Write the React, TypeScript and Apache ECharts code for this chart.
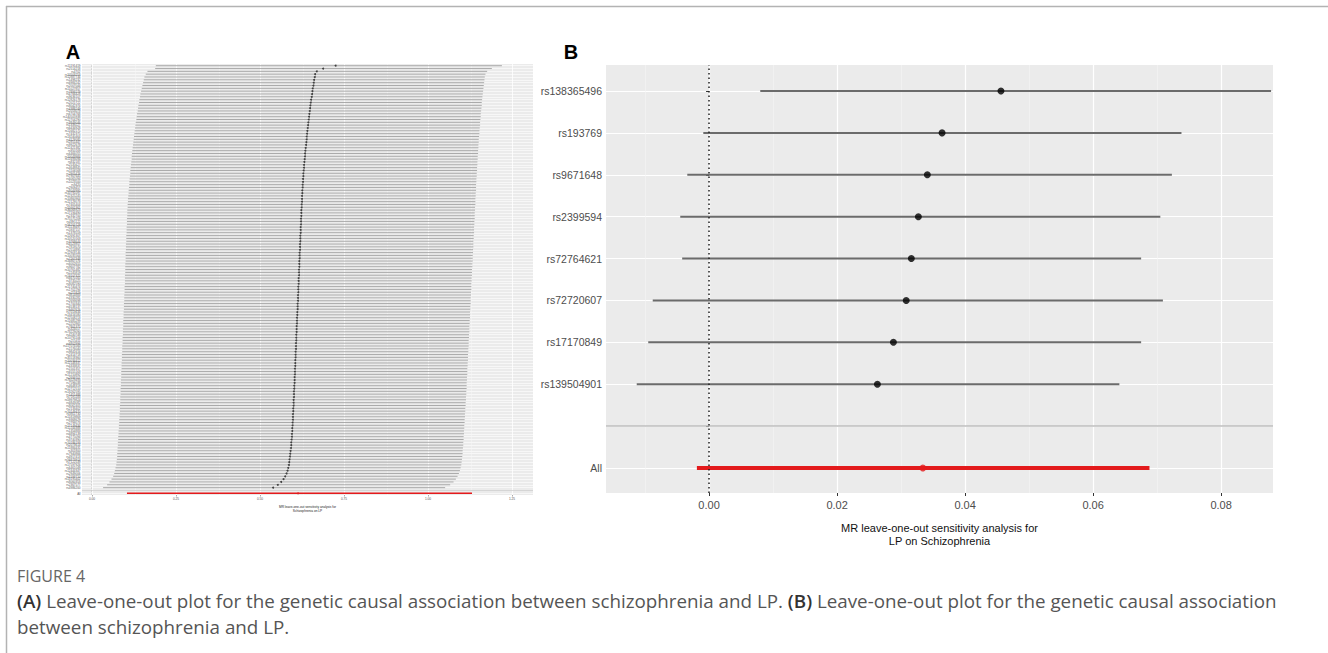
import React, { useEffect, useRef } from 'react';
import * as echarts from 'echarts';

// ---------- Panel A data (150 SNPs, sorted as in the figure) ----------
const A_SNPS = [
  'rs11191419','rs2514218','rs4702','rs10503253','rs12887734','rs1498232','rs6984242','rs2007044','rs11027857','rs7893279',
  'rs4766428','rs9636107','rs12826178','rs2021722','rs8042374','rs4388249','rs2053079','rs6704768','rs140505938','rs12704290',
  'rs3849046','rs1339227','rs6434928','rs11682175','rs7432375','rs13240464','rs4129585','rs2851447','rs9922678','rs12421382',
  'rs950169','rs6466055','rs10043984','rs11693094','rs832187','rs2535627','rs4648845','rs1106568','rs2905426','rs7907645',
  'rs6065094','rs1023500','rs9420','rs2909457','rs8044995','rs10791097','rs12325245','rs10860964','rs12129573','rs7405404',
  'rs55661361','rs36068923','rs17194490','rs2332700','rs75575209','rs4391122','rs56205728','rs11139497','rs5937157','rs1378559',
  'rs12691307','rs10520163','rs3768644','rs4523957','rs7819570','rs2514895','rs12903146','rs10035564','rs7267348','rs16867576',
  'rs6002655','rs9607782','rs10761482','rs2245819','rs13107325','rs6670165','rs3735025','rs8082590','rs11740474','rs1702294',
  'rs211829','rs3814883','rs4330281','rs2693698','rs1700340','rs6538137','rs9467626','rs7013634','rs13416580','rs12508213',
  'rs11685299','rs2252865','rs7801375','rs324017','rs73229090','rs4240748','rs10791106','rs215411','rs6802996','rs117074560',
  'rs1576040','rs9841616','rs2414718','rs35518360','rs10034412','rs12148337','rs4333837','rs1501357','rs6555163','rs11210892',
  'rs2693707','rs76029493','rs7596038','rs4648319','rs12712510','rs13262595','rs1451488','rs7191183','rs59979824','rs6843082',
  'rs8062405','rs2133402','rs10149470','rs3911730','rs11819869','rs9368629','rs2799573','rs17149434','rs12244388','rs1354883',
  'rs6894139','rs4775094','rs3740390','rs10186193','rs2073614','rs11884431','rs301800','rs7940866','rs4917413','rs56873913',
  'rs7122539','rs17597926','rs6461049','rs12444347','rs2949006','rs1593710','rs13195402','rs8060353','rs2367577','rs4986200',
];
const A_BETA = [
  0.725,0.688,0.669,0.664,0.663,0.661,0.660,0.659,0.657,0.656,
  0.655,0.654,0.652,0.651,0.650,0.649,0.648,0.647,0.646,0.645,
  0.644,0.643,0.642,0.641,0.640,0.639,0.639,0.638,0.637,0.636,
  0.635,0.634,0.634,0.633,0.632,0.631,0.631,0.630,0.629,0.629,
  0.628,0.628,0.627,0.627,0.626,0.626,0.625,0.625,0.625,0.624,
  0.624,0.623,0.623,0.623,0.622,0.622,0.622,0.621,0.621,0.621,
  0.620,0.620,0.620,0.619,0.619,0.619,0.618,0.618,0.618,0.617,
  0.617,0.617,0.616,0.616,0.616,0.615,0.615,0.615,0.614,0.614,
  0.614,0.613,0.613,0.613,0.612,0.612,0.612,0.611,0.611,0.610,
  0.610,0.610,0.609,0.609,0.609,0.608,0.608,0.608,0.607,0.607,
  0.607,0.606,0.606,0.606,0.605,0.605,0.605,0.604,0.604,0.604,
  0.603,0.603,0.603,0.602,0.602,0.601,0.601,0.601,0.600,0.600,
  0.600,0.599,0.599,0.598,0.598,0.598,0.597,0.597,0.596,0.596,
  0.595,0.595,0.594,0.593,0.593,0.592,0.591,0.590,0.589,0.588,
  0.587,0.586,0.584,0.582,0.579,0.575,0.570,0.563,0.553,0.539,
];
const A_LO = [
  0.190,0.188,0.165,0.160,0.156,0.154,0.152,0.150,0.148,0.146,
  0.144,0.143,0.141,0.140,0.138,0.137,0.136,0.134,0.133,0.132,
  0.130,0.129,0.128,0.127,0.126,0.125,0.124,0.123,0.122,0.121,
  0.120,0.119,0.118,0.118,0.117,0.116,0.115,0.114,0.114,0.113,
  0.112,0.111,0.111,0.110,0.109,0.109,0.108,0.107,0.107,0.106,
  0.106,0.105,0.105,0.105,0.104,0.104,0.104,0.103,0.103,0.103,
  0.102,0.102,0.102,0.101,0.101,0.101,0.100,0.100,0.100,0.100,
  0.099,0.099,0.099,0.099,0.098,0.098,0.098,0.098,0.097,0.097,
  0.097,0.096,0.096,0.096,0.095,0.095,0.095,0.094,0.094,0.094,
  0.093,0.093,0.093,0.092,0.092,0.092,0.091,0.091,0.091,0.090,
  0.090,0.090,0.089,0.089,0.089,0.088,0.088,0.088,0.087,0.087,
  0.087,0.086,0.086,0.086,0.085,0.085,0.085,0.084,0.084,0.084,
  0.083,0.083,0.083,0.082,0.082,0.081,0.081,0.080,0.080,0.079,
  0.079,0.078,0.078,0.077,0.077,0.076,0.076,0.075,0.075,0.074,
  0.073,0.072,0.070,0.068,0.066,0.063,0.058,0.052,0.045,0.033,
];
const A_HI = [
  1.220,1.190,1.176,1.171,1.169,1.168,1.167,1.166,1.165,1.164,
  1.163,1.162,1.161,1.160,1.160,1.159,1.158,1.157,1.157,1.156,
  1.155,1.155,1.154,1.153,1.153,1.152,1.151,1.151,1.150,1.150,
  1.149,1.149,1.148,1.148,1.147,1.147,1.146,1.146,1.145,1.145,
  1.144,1.144,1.143,1.143,1.143,1.142,1.142,1.141,1.141,1.141,
  1.140,1.140,1.139,1.139,1.139,1.138,1.138,1.137,1.137,1.137,
  1.136,1.136,1.135,1.135,1.135,1.134,1.134,1.133,1.133,1.133,
  1.132,1.132,1.131,1.131,1.131,1.130,1.130,1.129,1.129,1.129,
  1.128,1.128,1.127,1.127,1.127,1.126,1.126,1.125,1.125,1.125,
  1.124,1.124,1.123,1.123,1.123,1.122,1.122,1.121,1.121,1.121,
  1.120,1.120,1.119,1.119,1.119,1.118,1.118,1.117,1.117,1.117,
  1.116,1.116,1.115,1.115,1.115,1.114,1.114,1.113,1.113,1.112,
  1.112,1.111,1.111,1.110,1.110,1.109,1.109,1.108,1.108,1.107,
  1.107,1.106,1.106,1.105,1.105,1.104,1.103,1.103,1.102,1.101,
  1.100,1.099,1.097,1.095,1.092,1.088,1.083,1.076,1.066,1.051,
];
const A_ALL = { b: 0.613, lo: 0.104, hi: 1.131 };
const A_TICKS = [0, 0.25, 0.5, 0.75, 1.0, 1.25];
const A_MINOR = [0.125, 0.375, 0.625, 0.875, 1.125];
const A_MIN = -0.0298;
const A_MAX = 1.3125;
const A_TITLE = 'MR leave-one-out sensitivity analysis for\nSchizophrenia on LP';

// ---------- Panel B data ----------
const B_SNPS = ['rs138365496','rs193769','rs9671648','rs2399594','rs72764621','rs72720607','rs17170849','rs139504901'];
const B_BETA = [0.0456, 0.0364, 0.0341, 0.0327, 0.0316, 0.0308, 0.0288, 0.0263];
const B_LO = [0.0080, -0.0009, -0.0034, -0.0045, -0.0042, -0.0088, -0.0095, -0.0113];
const B_HI = [0.0878, 0.0738, 0.0723, 0.0705, 0.0675, 0.0709, 0.0675, 0.0641];
const B_ALL = { b: 0.0334, lo: -0.0019, hi: 0.0688 };
const B_TICKS = [0, 0.02, 0.04, 0.06, 0.08];
const B_MINOR = [-0.01, 0.01, 0.03, 0.05, 0.07];
const B_MIN = -0.0161;
const B_MAX = 0.0881;
const B_TITLE = 'MR leave-one-out sensitivity analysis for\nLP on Schizophrenia';

const CAPTION_HEAD = 'FIGURE 4';
const CAPTION_1 = '{b|(A)} Leave-one-out plot for the genetic causal association between schizophrenia and LP. {b|(B)} Leave-one-out plot for the genetic causal association';
const CAPTION_2 = 'between schizophrenia and LP.';

const FONT = '"Liberation Sans", Arial, Helvetica, sans-serif';
const CAP_FONT = '"Open Sans", sans-serif';

const errRender = (color: string, width: number) => (params: any, api: any) => {
  const y = api.value(2);
  const p1 = api.coord([api.value(0), y]);
  const p2 = api.coord([api.value(1), y]);
  return {
    type: 'line',
    shape: { x1: p1[0], y1: p1[1], x2: p2[0], y2: p2[1] },
    style: { stroke: color, lineWidth: width },
  };
};

function buildOption() {
  const aCats = [...A_SNPS, '', 'All'];
  const bCats = [...B_SNPS, '', 'All'];
  const aBlank = A_SNPS.length;
  const aAll = A_SNPS.length + 1;
  const bBlank = B_SNPS.length;
  const bAll = B_SNPS.length + 1;

  const vLineSeries = (xi: number, yi: number, values: number[], color: string, width: number, type: any, z: number) => ({
    type: 'line',
    xAxisIndex: xi,
    yAxisIndex: yi,
    data: [[values[0], 0.5]],
    symbol: 'none',
    lineStyle: { width: 0 },
    silent: true,
    z,
    markLine: {
      silent: true,
      symbol: ['none', 'none'],
      label: { show: false },
      z,
      lineStyle: { color, width, type },
      emphasis: { disabled: true },
      data: values.map((v) => ({ xAxis: v })),
    },
  });

  return {
    animation: false,
    backgroundColor: '#ffffff',
    textStyle: { fontFamily: FONT },
    grid: [
      { left: 82, top: 64, width: 451, height: 431, show: true, backgroundColor: '#ebebeb', borderWidth: 0 },
      { left: 82, top: 65.7, width: 451, height: 427.6 },
      { left: 606, top: 65, width: 667, height: 428, show: true, backgroundColor: '#ebebeb', borderWidth: 0 },
      { left: 606, top: 91, width: 667, height: 377 },
    ],
    xAxis: [
      {
        gridIndex: 0, type: 'value', min: A_MIN, max: A_MAX,
        axisLine: { show: false },
        axisTick: { show: true, customValues: A_TICKS, length: 1.5, lineStyle: { color: '#555', width: 0.5 } },
        axisLabel: { customValues: A_TICKS, fontSize: 3.2, color: '#555', margin: 2, formatter: (v: number) => v.toFixed(2) },
        splitLine: { show: true, lineStyle: { color: '#ffffff', width: 0.8 } },
        name: A_TITLE, nameLocation: 'middle', nameGap: 5,
        nameTextStyle: { fontSize: 3.2, color: '#222', lineHeight: 3.8 },
      },
      { gridIndex: 1, type: 'value', min: A_MIN, max: A_MAX, show: false },
      {
        gridIndex: 2, type: 'value', min: B_MIN, max: B_MAX,
        axisLine: { show: false },
        axisTick: { show: true, customValues: B_TICKS, length: 3, lineStyle: { color: '#333', width: 1 } },
        axisLabel: { customValues: B_TICKS, fontSize: 11, color: '#4d4d4d', margin: 6, formatter: (v: number) => v.toFixed(2) },
        splitLine: { show: true, lineStyle: { color: '#ffffff', width: 1.2 } },
        name: B_TITLE, nameLocation: 'middle', nameGap: 28.5,
        nameTextStyle: { fontSize: 11, color: '#111', lineHeight: 13 },
      },
      { gridIndex: 3, type: 'value', min: B_MIN, max: B_MAX, show: false },
    ],
    yAxis: [
      { gridIndex: 0, type: 'value', min: 0, max: 1, show: false },
      {
        gridIndex: 1, type: 'category', data: aCats, inverse: true, boundaryGap: false,
        axisLine: { show: false },
        axisTick: { show: true, interval: 0, length: 1, lineStyle: { color: '#777', width: 0.4 } },
        axisLabel: { interval: 0, fontSize: 3, color: '#555', margin: 1.5 },
        splitLine: { show: true, interval: 0, lineStyle: { color: '#ffffff', width: 0.6 } },
      },
      { gridIndex: 2, type: 'value', min: 0, max: 1, show: false },
      {
        gridIndex: 3, type: 'category', data: bCats, inverse: true, boundaryGap: false,
        axisLine: { show: false },
        axisTick: { show: true, interval: 0, length: 3, lineStyle: { color: '#333', width: 1 } },
        axisLabel: { interval: 0, fontSize: 10.5, color: '#4d4d4d', margin: 4 },
        splitLine: { show: true, interval: 0, lineStyle: { color: '#ffffff', width: 1.2 } },
      },
    ],
    series: [
      // minor grid lines
      vLineSeries(0, 0, A_MINOR, '#f7f7f7', 0.5, 'solid', 1),
      vLineSeries(2, 2, B_MINOR, '#f5f5f5', 0.6, 'solid', 1),
      // Panel A rows
      {
        type: 'line', xAxisIndex: 1, yAxisIndex: 1, data: [[A_ALL.b, aAll]], symbol: 'none', lineStyle: { width: 0 }, silent: true, z: 2,
        markLine: { silent: true, symbol: ['none', 'none'], label: { show: false }, lineStyle: { color: '#bdbdbd', width: 0.6, type: 'solid' }, data: [{ yAxis: aBlank }] },
      },
      {
        type: 'custom', xAxisIndex: 1, yAxisIndex: 1, z: 3, silent: true,
        renderItem: errRender('#808080', 0.65),
        encode: { x: [0, 1], y: 2 },
        data: A_LO.map((lo, i) => [lo, A_HI[i], i]),
      },
      {
        type: 'custom', xAxisIndex: 1, yAxisIndex: 1, z: 3, silent: true,
        renderItem: errRender('#e41a1c', 1.6),
        encode: { x: [0, 1], y: 2 },
        data: [[A_ALL.lo, A_ALL.hi, aAll]],
      },
      {
        type: 'scatter', xAxisIndex: 1, yAxisIndex: 1, z: 4, silent: true,
        symbol: 'circle', symbolSize: 2, itemStyle: { color: '#222' },
        data: A_BETA.map((b, i) => [b, i]),
      },
      {
        type: 'scatter', xAxisIndex: 1, yAxisIndex: 1, z: 4, silent: true,
        symbol: 'circle', symbolSize: 2, itemStyle: { color: '#e41a1c' },
        data: [[A_ALL.b, aAll]],
      },
      // Panel B rows
      {
        type: 'line', xAxisIndex: 3, yAxisIndex: 3, data: [[B_ALL.b, bAll]], symbol: 'none', lineStyle: { width: 0 }, silent: true, z: 2,
        markLine: { silent: true, symbol: ['none', 'none'], label: { show: false }, lineStyle: { color: '#bebebe', width: 1.5, type: 'solid' }, data: [{ yAxis: bBlank }] },
      },
      {
        type: 'custom', xAxisIndex: 3, yAxisIndex: 3, z: 3, silent: true,
        renderItem: errRender('#6b6b6b', 2),
        encode: { x: [0, 1], y: 2 },
        data: B_LO.map((lo, i) => [lo, B_HI[i], i]),
      },
      {
        type: 'custom', xAxisIndex: 3, yAxisIndex: 3, z: 3, silent: true,
        renderItem: errRender('#e31a1c', 4),
        encode: { x: [0, 1], y: 2 },
        data: [[B_ALL.lo, B_ALL.hi, bAll]],
      },
      {
        type: 'scatter', xAxisIndex: 3, yAxisIndex: 3, z: 4, silent: true,
        symbol: 'circle', symbolSize: 7, itemStyle: { color: '#000' },
        data: B_BETA.map((b, i) => [b, i]),
      },
      {
        type: 'scatter', xAxisIndex: 3, yAxisIndex: 3, z: 4, silent: true,
        symbol: 'circle', symbolSize: 7, itemStyle: { color: '#e31a1c' },
        data: [[B_ALL.b, bAll]],
      },
      // zero reference line in B
      vLineSeries(2, 2, [0], '#222', 1.5, [1.5, 3], 6),
    ],
    graphic: [
      { type: 'line', shape: { x1: 6, y1: 6.5, x2: 1328, y2: 6.5 }, style: { stroke: '#b3b3b3', lineWidth: 1.5 }, silent: true },
      { type: 'line', shape: { x1: 6.5, y1: 6, x2: 6.5, y2: 653 }, style: { stroke: '#b3b3b3', lineWidth: 1.5 }, silent: true },
      { type: 'text', x: 73, y: 52, style: { text: 'A', fontSize: 20, fontWeight: 'bold', fill: '#000', align: 'center', verticalAlign: 'middle', fontFamily: FONT } },
      { type: 'text', x: 571, y: 52, style: { text: 'B', fontSize: 20, fontWeight: 'bold', fill: '#000', align: 'center', verticalAlign: 'middle', fontFamily: FONT } },
      { type: 'text', x: 17, y: 576, style: { text: CAPTION_HEAD, fontSize: 16, lineHeight: 17, fill: '#666', verticalAlign: 'middle', fontFamily: CAP_FONT } },
      {
        type: 'text', x: 17, y: 587.5,
        style: {
          text: CAPTION_1 + '\n' + CAPTION_2, fontSize: 18.8, lineHeight: 26, fill: '#555', verticalAlign: 'top', fontFamily: CAP_FONT,
          rich: { b: { fontSize: 18.8, lineHeight: 26, fontWeight: 600, fill: '#333', color: '#333', fontFamily: CAP_FONT } },
        },
      },
    ],
  };
}

export default function App() {
  const ref = useRef<HTMLDivElement>(null);
  useEffect(() => {
    if (!ref.current) return;
    const chart = echarts.init(ref.current, null, { renderer: 'svg' });
    chart.setOption(buildOption() as any);
    return () => chart.dispose();
  }, []);
  return (
    <div
      ref={ref}
      style={{ position: 'fixed', left: 0, top: 0, width: 1328, height: 653, background: '#fff' }}
    />
  );
}
